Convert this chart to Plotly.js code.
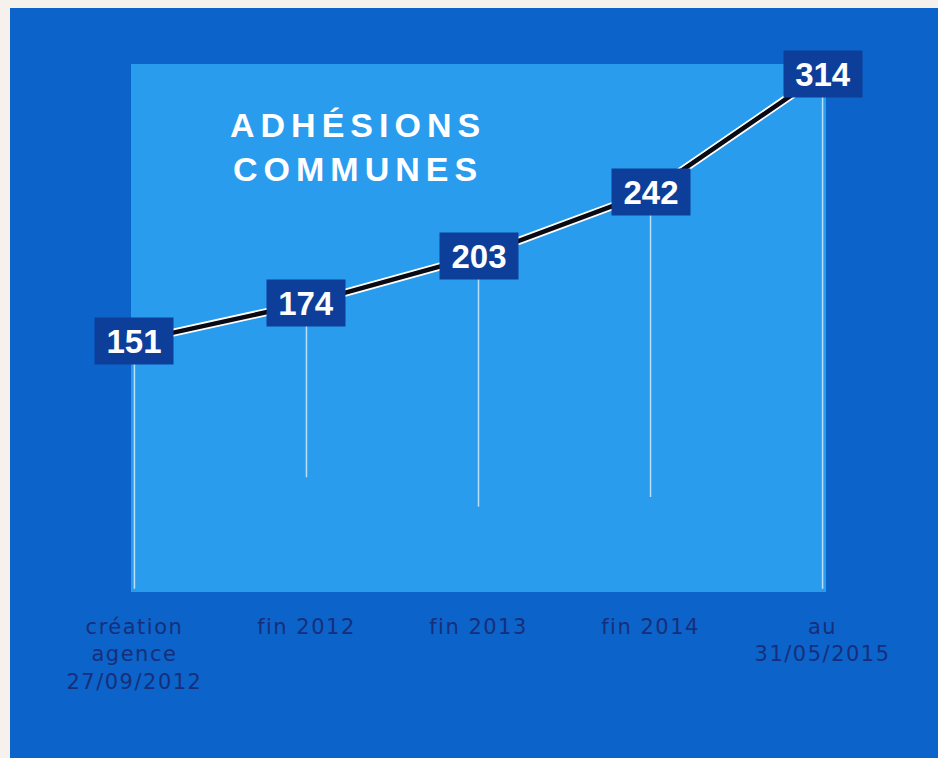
<!DOCTYPE html>
<html>
<head>
<meta charset="utf-8">
<script src="https://cdn.plot.ly/plotly-3.0.1.min.js"></script>
<style>
  html, body { margin: 0; padding: 0; background: #f6f1ec; width: 938px; height: 758px; overflow: hidden; }
  #chart { position: absolute; left: 10px; top: 8px; width: 928px; height: 750px; }
  .xtick text { letter-spacing: 1.5px; }
  .annotation[data-index="0"] text { letter-spacing: 6px; }
</style>
</head>
<body>
<div id="chart"></div>
<script>
const categories = [
  "création<br>agence<br>27/09/2012",
  "fin 2012",
  "fin 2013",
  "fin 2014",
  "au<br>31/05/2015"
];
const adhesions = [151, 174, 203, 242, 314];
const dropLineEnds = [0, 68, 50, 56, 0];
const chartTitle = "ADHÉSIONS<br>COMMUNES";

const xIdx = categories.map((_, i) => i);

const drops = {
  x: xIdx, y: adhesions, type: 'scatter', mode: 'markers',
  marker: { size: 1, color: 'rgba(0,0,0,0)' },
  error_y: {
    type: 'data', symmetric: false,
    array: adhesions.map(() => 0),
    arrayminus: adhesions.map((v, i) => v - dropLineEnds[i]),
    width: 0, thickness: 1.5, color: 'rgba(235,245,255,0.75)'
  },
  hoverinfo: 'skip', showlegend: false
};
const halo = {
  x: xIdx, y: adhesions, type: 'scatter', mode: 'lines',
  line: { color: '#ffffff', width: 8 }, showlegend: false, hoverinfo: 'skip'
};
const line = {
  x: xIdx, y: adhesions, type: 'scatter', mode: 'lines',
  line: { color: '#0a0a14', width: 4.5 }, showlegend: false
};

const annotations = [{
  xref: 'paper', yref: 'paper', x: 0.327, y: 0.842,
  text: '<b>' + chartTitle + '</b>', showarrow: false,
  font: { family: 'Liberation Sans, Arial, sans-serif', size: 34, color: '#ffffff' },
  align: 'center', xanchor: 'center', yanchor: 'middle'
}].concat(adhesions.map((v, i) => ({
  x: i, y: v, xref: 'x', yref: 'y',
  text: '<b>' + v + '</b>', showarrow: false,
  font: { family: 'Liberation Sans, Arial, sans-serif', size: 33, color: '#ffffff' },
  bgcolor: '#0d3e9a', width: 76, height: 44, borderpad: 1,
  xanchor: 'center', yanchor: 'middle', align: 'center'
})));

const layout = {
  width: 928, height: 750,
  paper_bgcolor: '#0c63c9',
  plot_bgcolor: '#2a9cee',
  margin: { l: 121, r: 112, t: 56, b: 166 },
  showlegend: false,
  xaxis: {
    type: 'linear',
    range: [-0.02, 4.02],
    tickmode: 'array', tickvals: xIdx, ticktext: categories,
    showgrid: false, zeroline: false, showline: false, ticks: '',
    ticklabelstandoff: 20,
    tickfont: { family: 'DejaVu Sans, sans-serif', size: 21, color: '#172f7a' }
  },
  yaxis: {
    range: [-2, 320],
    showgrid: false, zeroline: false, showline: false, showticklabels: false, ticks: ''
  },
  annotations: annotations
};

Plotly.newPlot('chart', [drops, halo, line], layout, { displayModeBar: false, staticPlot: true });
</script>
</body>
</html>
